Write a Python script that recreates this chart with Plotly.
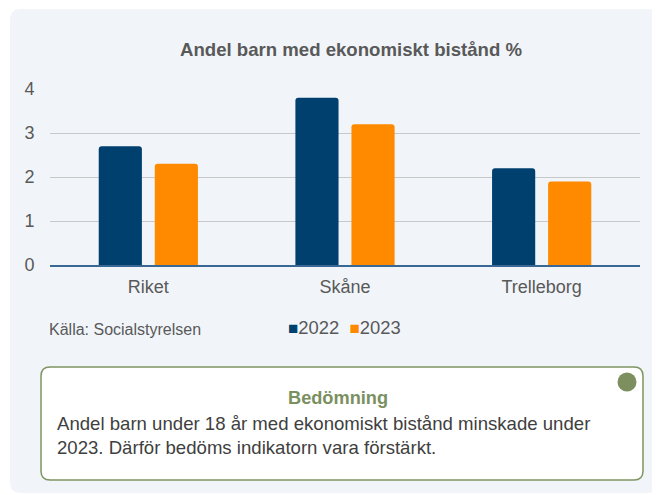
import plotly.graph_objects as go

categories = ["Riket", "Skåne", "Trelleborg"]
years = ["2022", "2023"]
values_2022 = [2.7, 3.8, 2.2]
values_2023 = [2.3, 3.2, 1.9]
colors = {"2022": "#00406f", "2023": "#ff8a00"}
y_ticks = [0, 1, 2, 3, 4]

title_text = "Andel barn med ekonomiskt bistånd %"
source_text = "Källa: Socialstyrelsen"
box_title = "Bedömning"
box_text = ("Andel barn under 18 år med ekonomiskt bistånd minskade under<br>"
            "2023. Därför bedöms indikatorn vara förstärkt.")

OFF = 8  # page body margin
W, H = 652, 487
L, R, T, B = 42, 20, 81, 230
PW, PH = W - L - R, H - T - B
FONT = "Liberation Sans, Arial, sans-serif"


def px(x):
    return (x - OFF - L) / PW


def py(y):
    return (H - B - (y - OFF)) / PH


def rrect(x0, y0, x1, y1, r):
    rx, ry = r / PW, r / PH
    X0, X1 = px(x0), px(x1)
    Y0, Y1 = py(y0), py(y1)  # Y0 top (larger), Y1 bottom
    return (f"M{X0+rx},{Y0} L{X1-rx},{Y0} Q{X1},{Y0} {X1},{Y0-ry} "
            f"L{X1},{Y1+ry} Q{X1},{Y1} {X1-rx},{Y1} L{X0+rx},{Y1} "
            f"Q{X0},{Y1} {X0},{Y1+ry} L{X0},{Y0-ry} Q{X0},{Y0} {X0+rx},{Y0} Z")


fig = go.Figure()
for yr, vals in zip(years, [values_2022, values_2023]):
    fig.add_trace(go.Bar(x=categories, y=vals, name=yr,
                         marker=dict(color=colors[yr], cornerradius=3,
                                     line=dict(width=0)),
                         showlegend=False))

shapes = [
    dict(type="path", xref="paper", yref="paper", path=rrect(10, 9, 659, 493, 11),
         fillcolor="#f1f5f9", line=dict(width=0), layer="below"),
    dict(type="path", xref="paper", yref="paper", path=rrect(41, 367, 643, 480, 9),
         fillcolor="#ffffff", line=dict(color="#7f9562", width=1.5), layer="above"),
    dict(type="circle", xref="paper", yref="paper",
         x0=px(617.5), x1=px(636.5), y0=py(391.5), y1=py(372.5),
         fillcolor="#7d8f5f", line=dict(width=0), layer="above"),
]

legend_html = "&nbsp;&nbsp;".join(
    f"<span style='color:{colors[yr]};font-size:17px'>■</span>{yr}" for yr in years)

annotations = [
    dict(text=f"<b>{title_text}</b>", x=px(351), y=py(50), xref="paper", yref="paper",
         showarrow=False, xanchor="center", yanchor="middle",
         font=dict(family=FONT, size=18.6, color="#595959")),
    dict(text=source_text, x=px(47), y=py(329), xref="paper", yref="paper",
         showarrow=False, xanchor="left", yanchor="middle",
         font=dict(family=FONT, size=16, color="#595959")),
    dict(text=legend_html, x=px(286), y=py(327), xref="paper", yref="paper",
         showarrow=False, xanchor="left", yanchor="middle",
         font=dict(family=FONT, size=18.4, color="#595959")),
    dict(text=f"<b>{box_title}</b>", x=px(338), y=py(398), xref="paper", yref="paper",
         showarrow=False, xanchor="center", yanchor="middle",
         font=dict(family=FONT, size=18.2, color="#7a9060")),
    dict(text=box_text, x=px(55), y=py(435.5), xref="paper", yref="paper",
         showarrow=False, xanchor="left", yanchor="middle", align="left",
         font=dict(family=FONT, size=18.6, color="#404040")),
]

fig.update_layout(
    width=W, height=H,
    margin=dict(l=L, r=R, t=T, b=B, pad=0),
    paper_bgcolor="#ffffff", plot_bgcolor="rgba(0,0,0,0)",
    barmode="group", bargap=0.43, bargroupgap=0.23,
    font=dict(family=FONT, size=18, color="#595959"),
    shapes=shapes, annotations=annotations,
    xaxis=dict(showline=True, linecolor="#3a6894", linewidth=1.5, showgrid=False,
               ticks="outside", ticklen=5, tickcolor="rgba(0,0,0,0)",
               tickfont=dict(size=18, color="#595959"), fixedrange=True),
    yaxis=dict(range=[0, 4], tickvals=y_ticks, showgrid=True, gridcolor="#c8c8c8",
               gridwidth=1, zeroline=False, showline=False,
               ticks="outside", ticklen=11, tickcolor="rgba(0,0,0,0)",
               tickfont=dict(size=18, color="#595959"), fixedrange=True),
)

fig.write_html("out.html")
